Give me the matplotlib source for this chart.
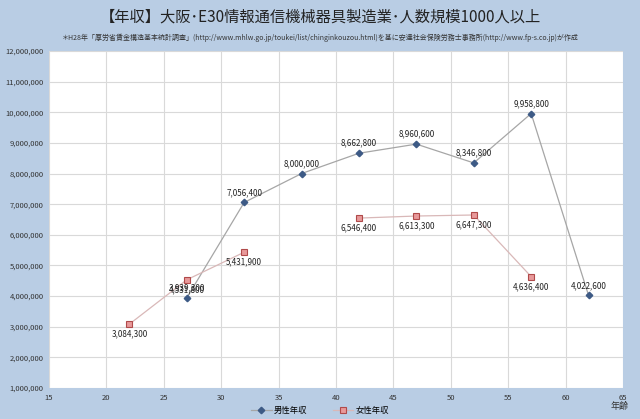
import numpy as np
import matplotlib.pyplot as plt
from matplotlib.ticker import FuncFormatter

plt.rcParams['font.family'] = ['Noto Sans CJK JP', 'DejaVu Sans']

male_age = [27, 32, 37, 42, 47, 52, 57, 62]
male_pay = [3939300, 7056400, 8000000, 8662800, 8960600, 8346800, 9958800, 4022600]
female_age = [22, 27, 32, 37, 42, 47, 52, 57]
female_pay = [3084300, 4531800, 5431900, np.nan, 6546400, 6613300, 6647300, 4636400]

title = '【年収】大阪･E30情報通信機械器具製造業･人数規模1000人以上'
note = '＊H28年「厚労省賃金構造基本統計調査」(http://www.mhlw.go.jp/toukei/list/chinginkouzou.html)を基に安達社会保険労務士事務所(http://www.fp-s.co.jp)が作成'

bg = '#b9cde4'
fig = plt.figure(figsize=(6.4, 4.19), dpi=100, facecolor=bg)
ax = fig.add_axes([49/640, 1 - 388/419, (623 - 49)/640, (388 - 51)/419])
ax.set_facecolor('white')

ax.plot(male_age, male_pay, color='#a6a6a6', lw=0.9, marker='D', ms=3.3,
        mfc='#3d5a85', mec='#3d5a85', label='男性年収', zorder=3)
ax.plot(female_age, female_pay, color='#d9b8b8', lw=0.9, marker='s', ms=5,
        mfc='#e8999a', mec='#b04a4a', mew=0.8, label='女性年収', zorder=3)

for x, y in zip(male_age, male_pay):
    ax.annotate(f'{y:,}', (x, y), xytext=(0, 4), textcoords='offset points',
                ha='center', va='bottom', fontsize=5.8, color='#222222')
for x, y in zip(female_age, female_pay):
    if np.isnan(y):
        continue
    ax.annotate(f'{y:,.0f}', (x, y), xytext=(0, -4), textcoords='offset points',
                ha='center', va='top', fontsize=5.8, color='#222222')

ax.set_xlim(15, 65)
ax.set_ylim(1000000, 12000000)
ax.set_xticks(range(15, 66, 5))
ax.set_yticks(range(1000000, 12000001, 1000000))
ax.yaxis.set_major_formatter(FuncFormatter(lambda v, p: f'{int(v):,}'))
ax.grid(True, color='#d9d9d9', lw=0.8)
ax.set_axisbelow(True)
for s in ax.spines.values():
    s.set_visible(False)
ax.tick_params(length=0, labelsize=5.5, colors='#333333', pad=4)

fig.text(0.5, 1 - 17/419, title, ha='center', va='center', fontsize=11, color='#222222')
fig.text(0.5, 1 - 38/419, note, ha='center', va='center', fontsize=5, color='#333333')
fig.text(620/640, 1 - 406/419, '年齢', ha='center', va='center', fontsize=6.5, color='#333333')

fig.legend(loc='center', bbox_to_anchor=(0.5, 1 - 410/419), ncol=2, frameon=False,
           fontsize=6, handlelength=2.5, columnspacing=3, handletextpad=0.3)

fig.savefig('out.png', dpi=100, facecolor=bg)
